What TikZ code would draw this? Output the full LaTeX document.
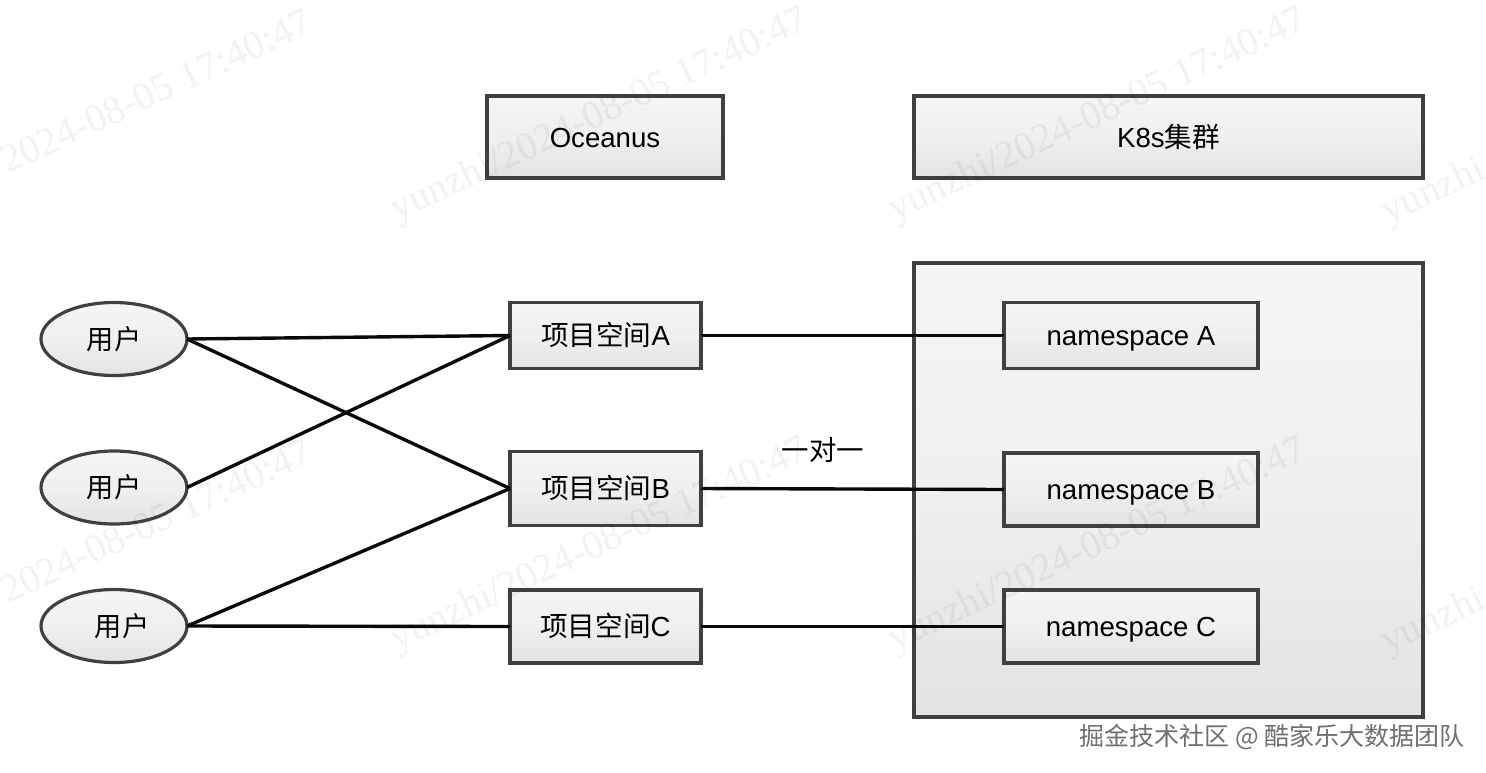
\documentclass[tikz,border=0pt]{standalone}
\usepackage{fontspec}
\setmainfont{Liberation Sans}
\newfontfamily\cjk{Noto Sans CJK SC}
\newfontfamily\wmfont{Liberation Serif}
\usetikzlibrary{shapes.geometric}
\definecolor{edgegray}{HTML}{404040}
\definecolor{wirecol}{HTML}{0A0A0A}
\tikzset{
  shapefill/.style={top color=#1,bottom color=black!11,middle color=black!6},
  boxnode/.style={rectangle,draw=edgegray,line width=3.4pt,shapefill=white!96!black,inner sep=0pt,outer sep=0pt,text height=20pt,text depth=0pt,font=\fontsize{27.6}{30}\selectfont},
  usernode/.style={ellipse,draw=edgegray,line width=3.2pt,shapefill=white!96!black,inner sep=0pt,outer sep=0pt,minimum width=146pt,minimum height=73pt,font=\fontsize{27.2}{30}\selectfont\cjk},
  wire/.style={draw=wirecol,line width=3.4pt},
  wm/.style={text=black,opacity=0.05,rotate=25,inner sep=0pt,font=\fontsize{39.8}{44}\selectfont\wmfont},
}
\newcommand{\wmfull}{yunzhi/2024-08-05 17:40:47}
\newcommand{\wmdate}{2024-08-05 17:40:47}
\begin{document}
\begin{tikzpicture}[x=1pt,y=-1pt]
\useasboundingbox (0,0) rectangle (1486,772);
\fill[white] (0,0) rectangle (1486,772);
% upper boxes
\node[boxnode,minimum width=236pt,minimum height=82pt] (ocean) at (605,137) {Oceanus};
\node[boxnode,minimum width=509pt,minimum height=82pt] (k8s) at (1168.5,137) {K8s{\cjk 集群}};
\node[boxnode,minimum width=509pt,minimum height=454pt] (cluster) at (1168.5,490) {};
% users
\node[usernode] (u1) at (114,339) {用户};
\node[usernode] (u2) at (114,487.5) {用户};
\node[usernode] (u3) at (114,626) {\hspace*{16pt}用户};
% projects
\node[boxnode,minimum width=191pt,minimum height=66pt] (pa) at (605.5,335.5) {{\cjk 项目空间}A};
\node[boxnode,minimum width=191pt,minimum height=74pt] (pb) at (605.5,488.5) {{\cjk 项目空间}B};
\node[boxnode,minimum width=191pt,minimum height=73pt] (pc) at (605.5,626.5) {{\cjk 项目空间}C};
% namespaces
\node[boxnode,minimum width=254pt,minimum height=66pt] (na) at (1131,335.5) {namespace A};
\node[boxnode,minimum width=254pt,minimum height=73pt] (nb) at (1131,489.5) {namespace B};
\node[boxnode,minimum width=254pt,minimum height=73pt] (nc) at (1131,626.5) {namespace C};
% connectors
\draw[wire] (u1.east) -- (pa.west);
\draw[wire] (u1.east) -- (pb.west);
\draw[wire] (u2.east) -- (pa.west);
\draw[wire] (u3.east) -- (pb.west);
\draw[wire] (u3.east) -- (pc.west);
\draw[wire] (pa.east) -- (na.west);
\draw[wire] (pb.east) -- (nb.west);
\draw[wire] (pc.east) -- (nc.west);
% labels
\node[inner sep=0pt,font=\fontsize{27.4}{30}\selectfont\cjk] (one) at (823,450) {一对一};
\node[inner sep=0pt,text=black!56,font=\fontsize{25}{28}\selectfont\cjk] (footer) at (1272,737) {掘金技术社区 @ 酷家乐大数据团队};
% watermarks
\begin{scope}
\clip (0,0) rectangle (1486,772);
\node[wm] (w1) at (156,91) {\wmdate};
\node[wm] (w2) at (600,116) {\wmfull};
\node[wm] (w3) at (1098,116) {\wmfull};
\node[wm] (w4) at (1434,192) {yunzhi};
\node[wm] (w5) at (156,521) {\wmdate};
\node[wm] (w6) at (600,546) {\wmfull};
\node[wm] (w7) at (1098,546) {\wmfull};
\node[wm] (w8) at (1434,622) {yunzhi};
\end{scope}
\end{tikzpicture}
\end{document}
